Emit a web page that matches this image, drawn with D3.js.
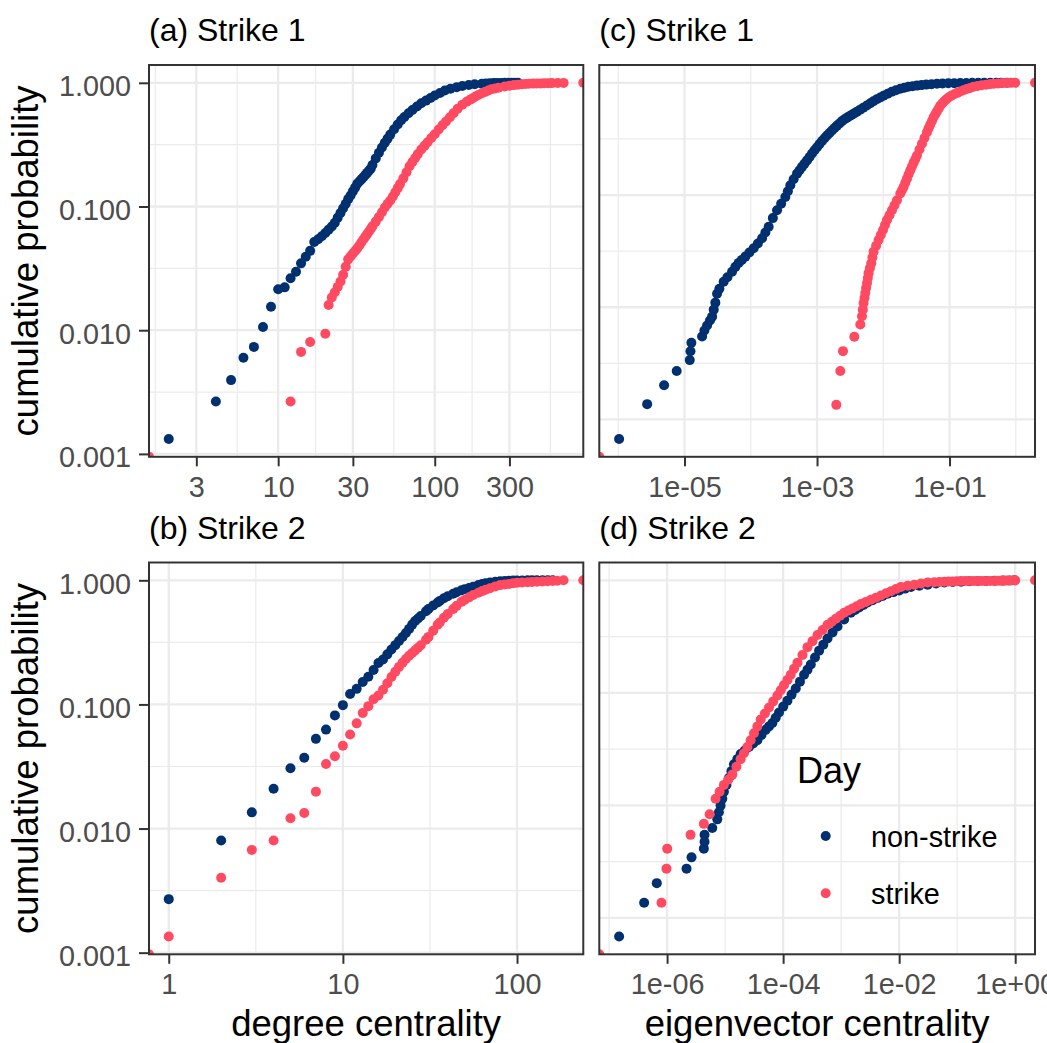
<!DOCTYPE html>
<html>
<head>
<meta charset="utf-8">
<script src="https://cdn.jsdelivr.net/npm/d3@7"></script>
<style>
body { margin: 0; background: #fff; }
svg text { font-family: "Liberation Sans", Arial, sans-serif; }
</style>
</head>
<body>
<div id="chart"></div>
<script>
// ---------------- data ----------------
var panelTitles = ["(a) Strike 1", "(b) Strike 2", "(c) Strike 1", "(d) Strike 2"];
var dayLevels = ["non-strike", "strike"];
var dayColors = ["#00306f", "#ff4a62"];

var probTicks = [0.001, 0.01, 0.1, 1];
var degTicksA = [3, 10, 30, 100, 300];
var degTicksB = [1, 10, 100];
var eigTicksC = [1e-5, 1e-3, 1e-1];
var eigLabelsC = ["1e-05", "1e-03", "1e-01"];
var eigTicksD = [1e-6, 1e-4, 1e-2, 1];
var eigLabelsD = ["1e-06", "1e-04", "1e-02", "1e+00"];

// [centrality, cumulative probability]; 0 / Infinity sit on the panel edge (ggplot squish)
// (a) degree, strike 1
var aNonStrike = [[2,0.00132],[4,0.00265],[5,0.00395],[6,0.00598],[7,0.00733],[8,0.0106],[9,0.0155],[10,0.0214],[11,0.0222],[12,0.0263],[13,0.0297],[14,0.0347],[15,0.0392],[16,0.0438],[17,0.0517],
  [18,0.0543],[19,0.0575],[20,0.0610],[21,0.0650],[22,0.0689],[23,0.0740],[24,0.0813],[25,0.0886],[26,0.0967],[27,0.1054],[28,0.1147],[29,0.1228],[30,0.1325],[31,0.1421],[32,0.1528],[33,0.1595],[34,0.1658],[35,0.1726],[36,0.1795],[37,0.1870],[38,0.1944],[39,0.2021],[40,0.2164],
  [42,0.2449],[44,0.2722],[46,0.2997],[48,0.3276],[50,0.3540],[52,0.3814],[55,0.4213],[58,0.4605],[61,0.4976],[64,0.5291],[68,0.5665],[72,0.6031],[77,0.6436],[82,0.6832],[88,0.7181],[94,0.7534],[100,0.7891],[108,0.8264],[116,0.8671],[126,0.8966],[138,0.9201],[150,0.9425],[165,0.9601],[180,0.9725],[200,0.9834],[212,0.988],[225,0.9926],[238,0.996],[250,0.998],[265,0.9985],[280,0.999],[295,0.9993],[310,0.9995],[325,0.9998],[340,1]];
var aStrike = [[0,0],[12,0.00265],[14,0.00668],[16,0.00804],[20,0.00937],[21,0.0160],[22,0.0184],[23,0.0203],[24,0.0224],[25,0.0248],[26,0.0281],[27,0.0326],[28,0.0374],[29,0.0395],[30,0.0417],[31,0.0437],[32,0.0459],[33,0.0484],[34,0.0513],[35,0.0541],[36,0.0569],[37,0.0598],[38,0.0627],[39,0.0657],[40,0.0691],
  [42,0.0755],[44,0.0822],[46,0.0898],[48,0.0982],[50,0.1051],[52,0.1119],[54,0.1206],[56,0.1303],[58,0.1408],[60,0.1517],[63,0.1689],[66,0.1894],[69,0.2113],[72,0.2287],[75,0.2468],[78,0.2652],[82,0.2888],[86,0.3093],[90,0.3306],[95,0.3580],[100,0.3842],[106,0.4198],[112,0.4537],[118,0.4868],[125,0.5272],[132,0.5685],[140,0.6169],[150,0.6655],[160,0.7022],[168,0.7288],[175,0.7519],[182,0.7744],[190,0.7978],[200,0.8233],[210,0.8450],[220,0.8671],[230,0.8883],[243,0.9000],[255,0.9116],[280,0.9356],[300,0.948],[320,0.9583],[340,0.966],[360,0.9726],[380,0.978],[400,0.9835],[425,0.9855],[450,0.9871],[475,0.989],[500,0.9908],[530,0.9925],[560,0.9945],[610,0.9965],[665,0.9985],[Infinity,1]];

// (b) degree, strike 2
var bNonStrike = [[1,0.0027],[2,0.0080],[3,0.0135],[4,0.0209],[5,0.0306],[6,0.0372],[7,0.0528],[8,0.0627],[9,0.0816],[10,0.0987],[11,0.1213],[12,0.1335],[13,0.1517],[14,0.167],[15,0.1897],[16,0.2157],[17,0.2300],[18,0.2532],[19,0.2773],[20,0.3003],[21,0.3246],[22,0.3495],[23,0.3762],[24,0.4061],[25,0.4396],[26,0.4699],[27,0.4931],[28,0.5164],[30,0.5632],[31,0.5878],[33,0.6272],[35,0.6632],[36,0.6805],[38,0.7167],[40,0.7436],[43,0.7790],[45,0.8023],[48,0.8325],[50,0.8467],[53,0.8671],[56,0.8883],[60,0.9150],[63,0.9338],[66,0.9477],[70,0.9601],[75,0.9726],[80,0.9834],[85,0.9885],[90,0.9926],[95,0.995],[100,0.998],[107,0.998],[115,0.999],[122,0.999],[130,1],[140,1],[150,1],[160,1]];
var bStrike = [[0,0],[1,0.00135],[2,0.00401],[3,0.00673],[4,0.0080],[5,0.01212],[6,0.01335],[7,0.01983],[8,0.0331],[9,0.0383],[10,0.0465],[11,0.0573],[12,0.0704],[13,0.0853],[14,0.0969],[15,0.1101],[16,0.1179],[17,0.1315],[18,0.1483],[19,0.1661],[20,0.1832],[21,0.2006],[22,0.2164],[23,0.2326],[24,0.2468],[25,0.2599],[26,0.2727],[27,0.2866],[28,0.2997],[30,0.3324],[31,0.3501],[33,0.3920],[35,0.4381],[36,0.4578],[38,0.4995],[40,0.5358],[43,0.5868],[45,0.6226],[48,0.6705],[50,0.6943],[53,0.7288],[56,0.7603],[60,0.7950],[63,0.8187],[66,0.8404],[70,0.8640],[75,0.8934],[80,0.9150],[85,0.926],[90,0.9356],[95,0.946],[100,0.9565],[107,0.961],[115,0.9654],[122,0.970],[130,0.9744],[140,0.979],[150,0.9835],[160,0.987],[170,0.9908],[185,1],[Infinity,1]];

// (c) eigenvector, strike 1
var cNonStrike = [[1.03e-6,6.70e-4],[2.73e-6,1.37e-3],[4.92e-6,2.02e-3],[7.62e-6,2.70e-3],[1.20e-5,3.38e-3],[1.23e-5,4.06e-3],[1.27e-5,4.82e-3],
  [1.843e-5,5.49e-3],[1.996e-5,6.20e-3],[2.19e-5,6.87e-3],[2.42e-5,7.61e-3],[2.61e-5,8.25e-3],[2.76e-5,9.52e-3],[2.92e-5,1.099e-2],[3.10e-5,1.320e-2],[3.36e-5,1.462e-2],[3.90e-5,1.687e-2],[4.44e-5,1.849e-2],[5.22e-5,2.069e-2],[5.86e-5,2.291e-2],[6.57e-5,2.485e-2],[7.34e-5,2.642e-2],[8.29e-5,2.827e-2],[9.53e-5,3.08e-2],[1.106e-4,3.355e-2],[1.280e-4,3.70e-2],[1.481e-4,4.115e-2],[1.661e-4,4.63e-2],[1.862e-4,5.215e-2],[2.154e-4,6.23e-2],[2.492e-4,7.33e-2],[2.873e-4,8.37e-2],[3.325e-4,9.62e-2],[3.63e-4,0.1081],[3.957e-4,0.1222],[4.437e-4,0.1380],[4.99e-4,0.1551],
  [5.445e-4,0.1662],[5.94e-4,0.1782],[6.478e-4,0.1906],[7.07e-4,0.2035],[7.705e-4,0.2185],[8.41e-4,0.2347],[9.17e-4,0.2505],[1.0e-3,0.2669],[1.091e-3,0.2844],[1.19e-3,0.3030],[1.297e-3,0.3209],[1.415e-3,0.3389],[1.543e-3,0.3567],[1.683e-3,0.3754],[1.837e-3,0.3950],[2.002e-3,0.4157],[2.184e-3,0.4347],[2.383e-3,0.4557],[2.600e-3,0.4727],[2.835e-3,0.4895],[3.092e-3,0.5047],[3.372e-3,0.5204],[3.678e-3,0.5366],[4.012e-3,0.5533],[4.467e-3,0.5763],[4.99e-3,0.6003],[5.637e-3,0.6280],[6.37e-3,0.6580],[7.113e-3,0.6855],[7.98e-3,0.7141],[9.01e-3,0.7408],[1.010e-2,0.7672],[1.165e-2,0.7989],[1.343e-2,0.8322],[1.554e-2,0.8582],[1.805e-2,0.8847],[2.074e-2,0.9030],[2.383e-2,0.9216],[2.766e-2,0.9330],[3.223e-2,0.9445],[3.782e-2,0.9541],[4.45e-2,0.9639],[5.354e-2,0.9718],[6.46e-2,0.9797],[7.84e-2,0.9858],[9.56e-2,0.9898],[0.1177,0.9934],[0.1450,0.9959],[0.1786,0.9975],[0.2200,0.999],[0.2710,1],[0.3338,1],[0.4111,1],[0.5063,1],[0.6023,1],[0.7340,1]];
var cStrike = [[0,0],[1.954e-3,1.350e-3],[2.245e-3,2.702e-3],[2.467e-3,4.064e-3],[3.652e-3,5.455e-3],[4.497e-3,7.01e-3],[4.77e-3,8.30e-3],[4.907e-3,9.52e-3],[5.045e-3,1.092e-2],[5.205e-3,1.209e-2],[5.35e-3,1.339e-2],[5.50e-3,1.483e-2],[5.68e-3,1.642e-2],[5.84e-3,1.819e-2],[6.00e-3,2.014e-2],[6.28e-3,2.231e-2],[6.59e-3,2.470e-2],[6.85e-3,2.780e-2],[7.14e-3,3.13e-2],[7.79e-3,3.53e-2],[8.49e-3,3.975e-2],[9.17e-3,4.40e-2],[9.90e-3,4.873e-2],[1.061e-2,5.40e-2],[1.137e-2,5.98e-2],[1.241e-2,6.62e-2],[1.352e-2,7.33e-2],[1.476e-2,8.12e-2],[1.609e-2,8.99e-2],[1.805e-2,0.1031],[1.914e-2,0.1103],[2.025e-2,0.1180],[2.147e-2,0.1285],[2.278e-2,0.1400],[2.407e-2,0.1523],[2.554e-2,0.1659],[2.709e-2,0.1793],[2.864e-2,0.1934],[3.039e-2,0.2085],[3.223e-2,0.2254],[3.516e-2,0.2547],[3.835e-2,0.2861],[4.18e-2,0.3221],[4.56e-2,0.3626],[4.824e-2,0.3926],[5.115e-2,0.4243],[5.426e-2,0.4575],[5.735e-2,0.4924],[6.1e-2,0.525],[6.457e-2,0.5566],[6.85e-2,0.591],[7.24e-2,0.6254],[7.75e-2,0.655],[8.32e-2,0.6855],[8.95e-2,0.713],[9.66e-2,0.7408],[0.1061,0.7655],[0.1177,0.7907],[0.1306,0.8137],[0.1450,0.8374],[0.1621,0.8598],[0.1817,0.8810],[0.2045,0.9012],[0.2301,0.9216],[0.2653,0.9367],[0.3060,0.9502],[0.3552,0.9620],[0.4111,0.9738],[0.4723,0.9818],[0.5427,0.9878],[0.6324,0.9939],[0.7340,0.998],[0.8465,0.999],[0.9795,1],[Infinity,1]];

// (d) eigenvector, strike 2
var dNonStrike = [[1.489e-7,6.82e-4],[4.02e-7,1.359e-3],[6.64e-7,2.033e-3],[2.163e-6,2.734e-3],[2.638e-6,3.446e-3],[4.30e-6,4.117e-3],[4.42e-6,4.74e-3],[4.42e-6,5.46e-3],[6.01e-6,6.29e-3],
  [7.33e-6,7.50e-3],[7.81e-6,8.67e-3],[8.36e-6,9.94e-3],[8.95e-6,1.145e-2],[9.53e-6,1.318e-2],[1.053e-5,1.518e-2],[1.163e-5,1.748e-2],[1.285e-5,2.012e-2],[1.419e-5,2.312e-2],[1.624e-5,2.572e-2],[1.852e-5,2.861e-2],[2.172e-5,3.067e-2],[2.577e-5,3.294e-2],[3.045e-5,3.538e-2],[3.598e-5,3.793e-2],[4.235e-5,4.219e-2],[5.005e-5,4.683e-2],[5.71e-5,5.03e-2],[6.53e-5,5.392e-2],[7.45e-5,6.0e-2],[8.50e-5,6.67e-2],[1.004e-4,7.54e-2],[1.186e-4,8.52e-2],[1.397e-4,9.64e-2],[1.651e-4,0.1092],[1.950e-4,0.1257],[2.296e-4,0.1448],[2.629e-4,0.1607],[2.997e-4,0.1788],[3.541e-4,0.2059],[4.169e-4,0.2370],[4.926e-4,0.2680],[5.82e-4,0.3036],[7.10e-4,0.3439],[8.67e-4,0.3888],[1.126e-3,0.4477],[1.471e-3,0.5156],[1.738e-3,0.5436],[2.046e-3,0.5734],[2.418e-3,0.6047],[2.858e-3,0.6364],[3.485e-3,0.6656],[4.253e-3,0.6950],[5.19e-3,0.7270],[6.33e-3,0.7586],[7.97e-3,0.7856],[1.004e-2,0.8133],[1.259e-2,0.8437],[1.599e-2,0.8737],[2.224e-2,0.8936],[3.106e-2,0.9140],[4.321e-2,0.9367],[6.01e-2,0.9580],[8.39e-2,0.9658],[0.1168,0.9718],[0.1624,0.9797],[0.2269,0.9858],[0.3156,0.9858],[0.4390,0.9898],[0.6133,0.994],[0.788,0.996],[0.973,1]];
var dStrike = [[0,0],[8.0e-7,1.359e-3],[9.76e-7,2.734e-3],[1.004e-6,4.117e-3],[2.535e-6,5.46e-3],[4.30e-6,6.84e-3],[5.40e-6,8.32e-3],[6.85e-6,1.145e-2],[8.04e-6,1.318e-2],[9.53e-6,1.518e-2],[1.126e-5,1.684e-2],[1.331e-5,1.874e-2],[1.567e-5,2.198e-2],[1.852e-5,2.572e-2],[2.112e-5,2.907e-2],[2.418e-5,3.294e-2],[2.757e-5,3.793e-2],[3.143e-5,4.368e-2],[3.598e-5,5.03e-2],[4.102e-5,5.793e-2],[4.85e-5,6.55e-2],[5.71e-5,7.40e-2],[6.75e-5,8.39e-2],[7.97e-5,9.48e-2],[9.09e-5,0.1055],[1.036e-4,0.1173],[1.186e-4,0.1302],[1.353e-4,0.1448],[1.543e-4,0.1640],[1.766e-4,0.1854],[2.154e-4,0.2171],[2.629e-4,0.2546],[3.21e-4,0.2878],[3.913e-4,0.3262],[4.773e-4,0.3619],[5.82e-4,0.4025],[6.91e-4,0.4280],[8.10e-4,0.4550],[9.57e-4,0.4839],[1.126e-3,0.5156],[1.332e-3,0.5392],[1.573e-3,0.5630],[1.852e-3,0.5888],[2.189e-3,0.6146],[2.670e-3,0.6430],[3.258e-3,0.6710],[3.975e-3,0.7006],[4.85e-3,0.7328],[5.916e-3,0.7666],[7.22e-3,0.8001],[8.81e-3,0.8369],[1.074e-2,0.8737],[1.402e-2,0.8936],[1.823e-2,0.9140],[2.379e-2,0.9367],[3.106e-2,0.9580],[4.038e-2,0.9619],[4.928e-2,0.9658],[6.01e-2,0.9718],[7.10e-2,0.9757],[8.39e-2,0.9777],[9.88e-2,0.9818],[0.1168,0.9858],[0.1380,0.9858],[0.1624,0.9858],[0.1920,0.9858],[0.2269,0.9858],[0.2671,0.9870],[0.3156,0.9878],[0.3729,0.9880],[0.4390,0.9858],[0.4928,0.990],[0.5508,0.992],[0.6206,0.993],[0.6993,0.994],[0.853,0.997],[1,1],[Infinity,1]];

// ---------------- layout ----------------
w = 1047;
h = 1043;
var colX = [149, 599.3], colW = [434.3, 435.7];
var rowY = [65, 562.5], rowH = 391.8;
var dotR = 5;

var panels = [
	{title: panelTitles[0], col: 0, row: 0, series: [aNonStrike, aStrike], xTicks: degTicksA, xLabels: degTicksA.map(String), yLabels: true},
	{title: panelTitles[1], col: 0, row: 1, series: [bNonStrike, bStrike], xTicks: degTicksB, xLabels: degTicksB.map(String), yLabels: true, xTitle: "degree centrality"},
	{title: panelTitles[2], col: 1, row: 0, series: [cNonStrike, cStrike], xTicks: eigTicksC, xLabels: eigLabelsC, yLabels: false},
	{title: panelTitles[3], col: 1, row: 1, series: [dNonStrike, dStrike], xTicks: eigTicksD, xLabels: eigLabelsD, yLabels: false, xTitle: "eigenvector centrality", legend: true}
];

var svg = d3.select("#chart").append("svg")
	.attr("width", w)
	.attr("height", h);

// ggplot-like log domain: finite range expanded 5% each side
function logDomain(vals) {
	var v = vals.filter(function(d) { return d > 0 && isFinite(d); });
	var e = d3.extent(v).map(Math.log10);
	var pad = (e[1] - e[0]) * 0.05;
	return [Math.pow(10, e[0] - pad), Math.pow(10, e[1] + pad)];
}

// minor breaks halfway between majors (log space), as in regular_minor_breaks
function minorBreaks(breaks, domain) {
	var b = breaks.map(Math.log10), ld = domain.map(Math.log10);
	var bd = b[1] - b[0];
	if (ld[0] < b[0]) b.unshift(b[0] - bd);
	if (ld[1] > b[b.length - 1]) b.push(b[b.length - 1] + bd);
	var out = [];
	for (var i = 0; i < b.length - 1; i++) {
		var m = (b[i] + b[i + 1]) / 2;
		if (m > ld[0] && m < ld[1]) out.push(Math.pow(10, m));
	}
	return out;
}

panels.forEach(function(p, pi) {
	var x0 = colX[p.col], y0 = rowY[p.row], pw = colW[p.col], ph = rowH;

	var allX = [], allY = [];
	p.series.forEach(function(s) { s.forEach(function(d) { allX.push(d[0]); allY.push(d[1]); }); });

	var xScale = d3.scaleLog().domain(logDomain(allX)).range([0, pw]).clamp(true);
	var yScale = d3.scaleLog().domain(logDomain(allY)).range([ph, 0]).clamp(true);

	var g = svg.append("g").attr("transform", "translate(" + x0 + "," + y0 + ")");

	g.append("rect").attr("width", pw).attr("height", ph).attr("fill", "#fff");

	// grid: minor then major
	var grid = g.append("g");
	minorBreaks(p.xTicks, xScale.domain()).forEach(function(v) {
		grid.append("line").attr("x1", xScale(v)).attr("x2", xScale(v)).attr("y1", 0).attr("y2", ph)
			.attr("stroke", "#ebebeb").attr("stroke-width", 1.2);
	});
	minorBreaks(probTicks, yScale.domain()).forEach(function(v) {
		grid.append("line").attr("y1", yScale(v)).attr("y2", yScale(v)).attr("x1", 0).attr("x2", pw)
			.attr("stroke", "#ebebeb").attr("stroke-width", 1.2);
	});
	p.xTicks.forEach(function(v) {
		grid.append("line").attr("x1", xScale(v)).attr("x2", xScale(v)).attr("y1", 0).attr("y2", ph)
			.attr("stroke", "#ebebeb").attr("stroke-width", 2.3);
	});
	probTicks.forEach(function(v) {
		grid.append("line").attr("y1", yScale(v)).attr("y2", yScale(v)).attr("x1", 0).attr("x2", pw)
			.attr("stroke", "#ebebeb").attr("stroke-width", 2.3);
	});

	// points, clipped to the panel
	svg.append("clipPath").attr("id", "clip" + pi)
		.append("rect").attr("width", pw).attr("height", ph);
	var pts = g.append("g").attr("clip-path", "url(#clip" + pi + ")");
	p.series.forEach(function(s, si) {
		pts.selectAll(".pt" + si).data(s).enter()
			.append("circle")
			.attr("class", "pt" + si)
			.attr("cx", function(d) { return xScale(d[0]); })
			.attr("cy", function(d) { return yScale(d[1]); })
			.attr("r", dotR)
			.attr("fill", dayColors[si]);
	});

	// border
	g.append("rect").attr("width", pw).attr("height", ph)
		.attr("fill", "none").attr("stroke", "#333333").attr("stroke-width", 2);

	// x axis
	var xAxis = d3.axisBottom(xScale)
		.tickValues(p.xTicks)
		.tickFormat(function(d, i) { return p.xLabels[i]; })
		.tickSize(9.5)
		.tickPadding(10);
	var xg = g.append("g").attr("transform", "translate(0," + ph + ")").call(xAxis);
	xg.select(".domain").remove();
	xg.selectAll("line").attr("stroke", "#333333").attr("stroke-width", 2);
	xg.selectAll("text").attr("fill", "#4d4d4d").style("font-size", "28.8px")
		.style("font-family", "'Liberation Sans', Arial, sans-serif");

	if (p.yLabels) {
		var yAxis = d3.axisLeft(yScale)
			.tickValues(probTicks)
			.tickFormat(d3.format(".3f"))
			.tickSize(10)
			.tickPadding(8);
		var yg = g.append("g").call(yAxis);
		yg.select(".domain").remove();
		yg.selectAll("line").attr("stroke", "#333333").attr("stroke-width", 2);
		yg.selectAll("text").attr("fill", "#4d4d4d").attr("dy", "0.45em").style("font-size", "28.8px")
			.style("font-family", "'Liberation Sans', Arial, sans-serif");

		svg.append("text")
			.attr("transform", "translate(38," + (y0 + ph / 2) + ") rotate(-90)")
			.attr("text-anchor", "middle")
			.style("font-size", "36.5px")
			.attr("fill", "#000")
			.text("cumulative probability");
	}

	// panel title
	svg.append("text")
		.attr("x", x0)
		.attr("y", y0 - 24)
		.style("font-size", "32px")
		.attr("fill", "#000")
		.text(p.title);

	if (p.xTitle) {
		svg.append("text")
			.attr("x", x0 + pw / 2)
			.attr("y", 1036)
			.attr("text-anchor", "middle")
			.style("font-size", "36.5px")
			.attr("fill", "#000")
			.text(p.xTitle);
	}

	if (p.legend) {
		var lg = svg.append("g").attr("transform", "translate(797,783)");
		lg.append("text").style("font-size", "36px").attr("fill", "#000").text("Day");
		dayLevels.forEach(function(lv, i) {
			var yy = 53 + i * 57.3;
			lg.append("circle").attr("cx", 28.7).attr("cy", yy).attr("r", dotR).attr("fill", dayColors[i]);
			lg.append("text").attr("x", 74).attr("y", yy + 10.5)
				.style("font-size", "28.8px").attr("fill", "#000").text(lv);
		});
	}
});
</script>
</body>
</html>
